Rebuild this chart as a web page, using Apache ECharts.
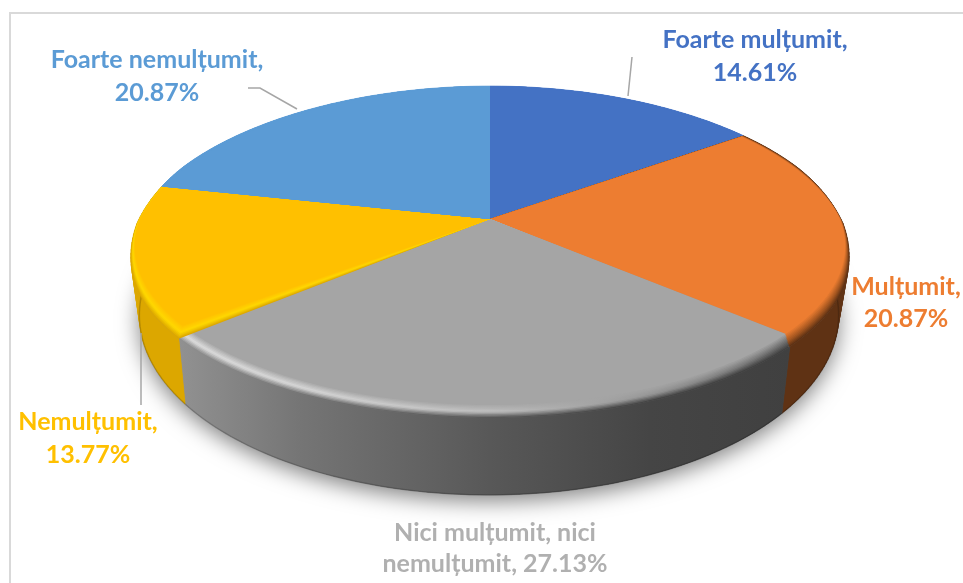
<!DOCTYPE html>
<html>
<head>
<meta charset="utf-8">
<style>html,body{margin:0;padding:0;background:#fff}#c{width:963px;height:583px}</style>
<script src="https://cdn.jsdelivr.net/npm/echarts@6/dist/echarts.min.js"></script>
</head>
<body>
<div id="c"></div>
<script>
// ---- data ----
const categories = ['Foarte mulțumit', 'Mulțumit', 'Nici mulțumit, nici nemulțumit', 'Nemulțumit', 'Foarte nemulțumit'];
const values = [14.61, 20.87, 27.13, 13.77, 20.87];
const labelLines = [
  ['Foarte mulțumit,', '14.61%'],
  ['Mulțumit,', '20.87%'],
  ['Nici mulțumit, nici', 'nemulțumit, 27.13%'],
  ['Nemulțumit,', '13.77%'],
  ['Foarte nemulțumit,', '20.87%']
];
// ---- style ----
const baseColors = ['#4472c4', '#ed7d31', '#a5a5a5', '#ffc000', '#5b9bd5'];
const labelColors = ['#4472c4', '#ed7d31', '#b0b0b0', '#ffc000', '#5b9bd5'];
const gradX = [132, 300, 490, 650, 848];
const bevelColors = [
  ['#4472c4', '#4472c4', '#4472c4', '#4472c4', '#4472c4'],
  ['#b0601f', '#b0601f', '#b0601f', '#a85820', '#a85820'],
  ['#e0e0e0', '#d8d8d8', '#bfbfbf', '#969696', '#5a5a5a'],
  ['#ffd800', '#ffd800', '#ffd800', '#ffd800', '#ffd800'],
  ['#5b9bd5', '#5b9bd5', '#5b9bd5', '#5b9bd5', '#5b9bd5']
];
const wallColors = [
  ['#4472c4', '#4472c4', '#4472c4', '#4472c4', '#4472c4'],
  ['#5f3214', '#5f3214', '#5f3214', '#5f3214', '#5f3214'],
  ['#9c9c9c', '#757575', '#585858', '#454545', '#3e3e3e'],
  ['#dca700', '#dca700', '#dca700', '#dca700', '#dca700'],
  ['#5b9bd5', '#5b9bd5', '#5b9bd5', '#5b9bd5', '#5b9bd5']
];
const labelAnchors = [[755, 40, 73], [906, 287, 319], [495, 533, 564], [88, 422, 455], [157, 60, 93]];
const leaderLines = [
  [[628, 96], [632, 57]],
  [],
  [],
  [[141, 333], [141, 405]],
  [[297, 109], [260, 88], [248, 88]]
];
const apex = [490, 219];
const faceProj = { A: 350, B: 154.4, k: 0.17, backTaper: 0.04 };
const lowProj = { x0: 489, y0: 283, A: 344, B: 174, k: 0.179 };
const BANDS = 10;

// ---- geometry helpers ----
const total = values.reduce((a, b) => a + b, 0);
const starts = [];
values.reduce((acc, v, i) => { starts[i] = acc / total * Math.PI * 2; return acc + v; }, 0);
const range = i => [starts[i], starts[i] + values[i] / total * Math.PI * 2];
const smooth = (a, b, x) => { const t = Math.min(1, Math.max(0, (x - a) / (b - a))); return t * t * (3 - 2 * t); };

function face(th, t) {
  const u = Math.sin(th), v = -Math.cos(th), w = 1 - faceProj.k * v;
  const s = smooth(-0.4, 0.5, v);
  const taper = 1 + faceProj.backTaper * Math.min(v, 0);
  return [
    apex[0] + faceProj.A * u / w * taper + t * u * (2 + 3 * s),
    apex[1] + faceProj.B * v / w + t * (-1 + 14 * s)
  ];
}
function low(th) {
  const u = Math.sin(th), v = -Math.cos(th), w = 1 - lowProj.k * v;
  return [lowProj.x0 + lowProj.A * u / w, lowProj.y0 + lowProj.B * v / w];
}
function arc(i, f) {
  const [a, b] = range(i), n = Math.max(8, Math.round((b - a) * 50)), pts = [];
  for (let j = 0; j <= n; j++) pts.push(f(a + (b - a) * j / n));
  return pts;
}
const hex = c => [1, 3, 5].map(p => parseInt(c.substr(p, 2), 16));
const mix = (c1, c2, t) => {
  const a = hex(c1), b = hex(c2);
  return 'rgb(' + a.map((x, i) => Math.round(x + (b[i] - x) * t)).join(',') + ')';
};
function gradient(colorAt) {
  return {
    type: 'linear', global: true, x: gradX[0], y: 0, x2: gradX[gradX.length - 1], y2: 0,
    colorStops: gradX.map((x, i) => ({ offset: (x - gradX[0]) / (gradX[gradX.length - 1] - gradX[0]), color: colorAt(i) }))
  };
}
function bandFill(i, t) {
  const base = baseColors[i];
  return gradient(k => {
    const hl = bevelColors[i][k], wall = wallColors[i][k];
    return t < 0.55 ? mix(base, hl, t / 0.55) : mix(hl, wall, (t - 0.55) / 0.45);
  });
}

const seriesData = values.map((v, i) => ({ name: categories[i], value: v }));

function renderShadow(params) {
  if (params.dataIndex !== 0) return { type: 'group', children: [] };
  const pts = [];
  for (let j = 0; j < 120; j++) pts.push(low(j / 120 * Math.PI * 2));
  return {
    type: 'polygon', shape: { points: pts },
    style: { fill: '#888', shadowBlur: 22, shadowColor: 'rgba(0,0,0,0.5)', shadowOffsetY: 6 }
  };
}
function renderWall(params) {
  const i = params.dataIndex, children = [];
  const topArc = arc(i, th => face(th, 1)), lowArc = arc(i, low);
  const fill = gradient(k => wallColors[i][k]);
  // swept quads give the tangent outline at the far left and right
  for (let j = 0; j < topArc.length - 1; j++) {
    children.push({
      type: 'polygon',
      shape: { points: [topArc[j], topArc[j + 1], lowArc[j + 1], lowArc[j]] },
      style: { fill, stroke: fill, lineWidth: 0.6 }
    });
  }
  // one smooth piece on top hides the seams between the quads
  children.push({
    type: 'polygon',
    shape: { points: topArc.concat(lowArc.slice().reverse()) },
    style: { fill }
  });
  // darker foot of the wall
  children.push({
    type: 'polyline', shape: { points: lowArc },
    style: { fill: 'none', stroke: 'rgba(0,0,0,0.18)', lineWidth: 1.5 }
  });
  return { type: 'group', children };
}
function renderFace(params) {
  const i = params.dataIndex, children = [];
  for (let b = BANDS; b >= 1; b--) {
    const t = b / BANDS;
    children.push({
      type: 'polygon',
      shape: { points: [apex].concat(arc(i, th => face(th, t))) },
      style: { fill: bandFill(i, t) }
    });
  }
  children.push({
    type: 'polygon',
    shape: { points: [apex].concat(arc(i, th => face(th, 0))) },
    style: { fill: baseColors[i] }
  });
  return { type: 'group', children };
}
function renderLabel(params) {
  const i = params.dataIndex, children = [];
  const a = labelAnchors[i];
  labelLines[i].forEach((line, n) => children.push({
    type: 'text',
    style: {
      text: line, x: a[0], y: a[n + 1], fill: labelColors[i],
      font: 'bold 25px Lato, "Open Sans", sans-serif', align: 'center', verticalAlign: 'middle'
    }
  }));
  if (leaderLines[i].length) children.push({
    type: 'polyline', shape: { points: leaderLines[i] },
    style: { fill: 'none', stroke: '#a6a6a6', lineWidth: 1.5 }
  });
  return { type: 'group', children };
}

const chart = echarts.init(document.getElementById('c'), null, { renderer: 'canvas' });
const custom = (z, renderItem) => ({
  type: 'custom', coordinateSystem: 'none', z, silent: true, animation: false,
  clip: false, data: seriesData, renderItem
});
chart.setOption({
  animation: false,
  backgroundColor: '#ffffff',
  graphic: [{
    type: 'rect', z: 0, silent: true,
    shape: { x: 10, y: 13, width: 1000, height: 640 },
    style: { fill: 'none', stroke: '#d9d9d9', lineWidth: 2 }
  }],
  series: [
    custom(1, renderShadow),
    custom(2, renderWall),
    custom(3, renderFace),
    custom(4, renderLabel)
  ]
});
</script>
</body>
</html>
